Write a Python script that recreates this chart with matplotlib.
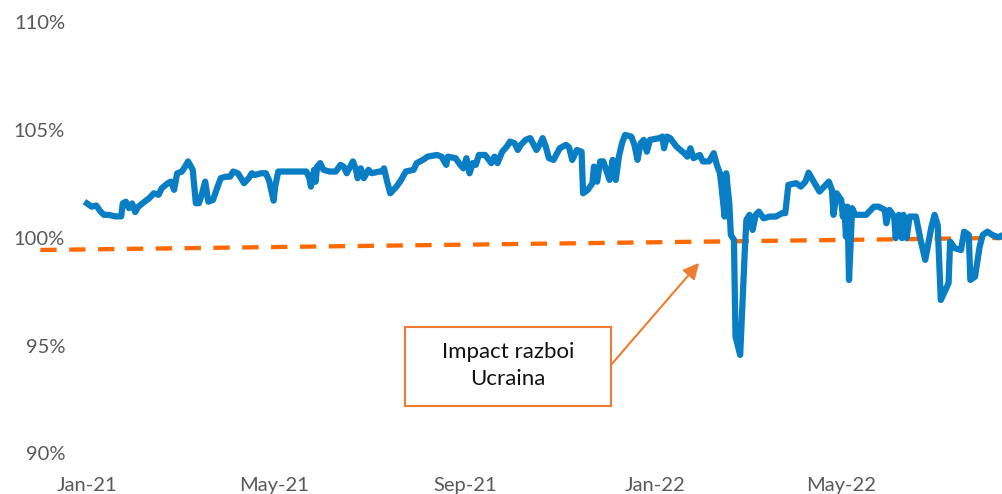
import numpy as np
import pandas as pd
import matplotlib
matplotlib.use("Agg")
import matplotlib.pyplot as plt
import matplotlib.dates as mdates
from matplotlib.patches import Rectangle
from matplotlib.ticker import FuncFormatter

plt.rcParams['font.family'] = ['Lato', 'DejaVu Sans']

start = pd.Timestamp('2021-01-01')

# days since 2021-01-01 and index values (%)
days = [0, 3, 6, 9, 11, 14, 18, 22, 23, 25, 27, 29, 31, 33, 37, 40, 43, 46, 48, 52,
        54, 56, 58, 61, 63, 65, 68, 70, 72, 74, 76, 78, 81, 84, 86, 89, 92, 94, 97, 101,
        104, 106, 108, 112, 115, 117, 120, 121, 123, 128, 141, 143, 144, 146, 147, 148, 150, 152, 156, 160,
        163, 165, 167, 171, 173, 174, 176, 178, 181, 183, 188, 190, 191, 193, 195, 199, 202, 205, 210, 212,
        216, 219, 225, 228, 231, 232, 237, 240, 242, 244, 246, 248, 250, 252, 256, 260, 262, 264, 267, 270,
        272, 275, 277, 279, 282, 285, 289, 291, 293, 295, 297, 300, 304, 308, 310, 312, 315, 318, 319, 322,
        325, 326, 328, 330, 332, 336, 338, 340, 342, 344, 346, 350, 352, 354, 356, 358, 360, 362, 368, 370,
        371, 373, 375, 379, 384, 386, 388, 390, 394, 396, 400, 403, 405, 407, 408, 410, 411, 413, 414, 416,
        417, 420, 423, 424, 426, 428, 430, 432, 435, 439, 443, 447, 449, 451, 456, 459, 462, 464, 466, 471,
        477, 479, 480, 482, 485, 486, 487, 488, 489, 490, 492, 494, 501, 506, 509, 513, 514, 516, 519, 520,
        522, 524, 525, 527, 529, 533, 536, 539, 543, 545, 547, 549, 552, 554, 555, 558, 562, 564, 567, 568,
        571, 574, 576, 579, 582, 586, 588]
values = [101.6, 101.45, 101.5, 101.2, 101.07, 101.07, 101.0, 101.0, 101.6, 101.68, 101.38, 101.6, 101.2, 101.45, 101.68, 101.84, 102.07, 102.0, 102.3, 102.54,
          102.61, 102.23, 103.0, 103.08, 103.3, 103.55, 103.16, 101.61, 101.61, 102.07, 102.61, 101.68, 101.76, 102.38, 102.77, 102.84, 102.84, 103.08, 103.0, 102.54,
          102.77, 103.0, 102.92, 103.0, 103.0, 102.69, 101.73, 102.38, 103.08, 103.08, 103.08, 102.77, 102.38, 103.16, 102.61, 103.31, 103.47, 103.16, 103.08, 103.08,
          103.39, 103.31, 103.0, 103.55, 103.16, 102.77, 103.23, 102.77, 103.16, 103.0, 103.08, 103.08, 103.23, 102.61, 102.07, 102.38, 102.69, 103.08, 103.16, 103.47,
          103.62, 103.77, 103.85, 103.77, 103.39, 103.77, 103.7, 103.39, 103.23, 103.7, 103.0, 103.47, 103.39, 103.85, 103.85, 103.47, 103.77, 103.47, 104.0, 104.24,
          104.47, 104.39, 104.08, 104.32, 104.55, 104.63, 104.08, 104.32, 104.63, 104.24, 103.7, 103.62, 104.16, 104.32, 104.2, 103.62, 104.08, 104.0, 102.07, 102.23,
          102.54, 103.31, 102.61, 103.55, 103.55, 102.69, 103.62, 102.69, 103.77, 104.39, 104.78, 104.7, 104.32, 103.62, 104.39, 104.55, 104.0, 104.55, 104.63, 104.7,
          104.16, 104.7, 104.63, 104.24, 103.93, 103.77, 104.16, 103.7, 103.85, 103.55, 103.55, 103.93, 103.39, 103.0, 102.38, 100.99, 103.0, 101.61, 100.14, 99.91,
          95.42, 94.57, 99.44, 100.84, 101.07, 100.37, 101.07, 101.22, 100.91, 100.99, 100.99, 101.15, 101.15, 102.46, 102.54, 102.38, 102.61, 103.03, 102.77, 102.15,
          102.61, 102.23, 101.07, 102.07, 101.76, 100.99, 101.45, 100.06, 101.45, 98.05, 101.38, 101.07, 101.07, 101.45, 101.45, 101.3, 100.68, 101.3, 100.99, 99.99,
          101.07, 99.99, 101.07, 99.99, 100.99, 100.99, 99.91, 98.98, 100.52, 101.07, 100.6, 97.12, 97.59, 97.9, 99.83, 99.52, 99.44, 100.29, 100.14, 98.05,
          98.2, 99.6, 100.14, 100.29, 100.14, 100.03, 100.1]

# linear trend (dashed) endpoints
trend_days = [-30, 589]
trend_values = [99.44, 100.0]

tick_dates = ['2021-01-01', '2021-05-01', '2021-09-01', '2022-01-01', '2022-05-01']
tick_labels = ['Jan-21', 'May-21', 'Sep-21', 'Jan-22', 'May-22']
y_ticks = [90, 95, 100, 105, 110]

annot_text = 'Impact razboi\nUcraina'

dates = start + pd.to_timedelta(days, unit='D')
trend_dates = start + pd.to_timedelta(trend_days, unit='D')

W, H = 1003, 494
fig = plt.figure(figsize=(W / 100, H / 100), dpi=100)
ax = fig.add_axes([38 / W, 1 - 470 / H, (1003 - 38) / W, 470 / H])

BLUE = '#0A7EC4'
ORANGE = '#FF6A00'
ANN = '#ED7D31'

ax.plot(trend_dates, trend_values, color=ORANGE, lw=3.1, dashes=(3.8, 2.9),
        solid_capstyle='butt', dash_capstyle='butt', zorder=2)
ax.plot(dates, values, color=BLUE, lw=4.5, solid_joinstyle='round', zorder=3)

ax.set_xlim(start - pd.Timedelta(days=31.5), start + pd.Timedelta(days=589))
ax.set_ylim(89.23, 111.04)

ax.set_xticks(pd.to_datetime(tick_dates))
ax.set_xticklabels(tick_labels)
ax.set_yticks(y_ticks)
ax.yaxis.set_major_formatter(FuncFormatter(lambda v, p: f'{v:.0f}%'))

for s in ax.spines.values():
    s.set_visible(False)
ax.tick_params(axis='both', length=0, labelsize=14.5, labelcolor='#595959')
ax.tick_params(axis='y', pad=-19.5)
ax.tick_params(axis='x', pad=5)

# annotation box
def d(day):
    return mdates.date2num(start + pd.Timedelta(days=day))

box_x0, box_x1 = 204.5, 337.0
box_y0, box_y1 = 92.2, 95.87
rect = Rectangle((d(box_x0), box_y0), d(box_x1) - d(box_x0), box_y1 - box_y0,
                 fill=True, facecolor='white', edgecolor=ANN, lw=1.5, zorder=4)
ax.add_patch(rect)
ax.text((d(box_x0) + d(box_x1)) / 2, (box_y0 + box_y1) / 2 + 0.05, annot_text,
        ha='center', va='center', fontsize=16, color='#111111', linespacing=1.45, zorder=5)

ax.annotate('', xy=(d(393.6), 98.84), xytext=(d(337.0), 94.11),
            arrowprops=dict(arrowstyle='-|>', mutation_scale=24, lw=1.5,
                            color=ANN, shrinkA=0, shrinkB=0), zorder=5)

fig.savefig('out.png', dpi=100)
